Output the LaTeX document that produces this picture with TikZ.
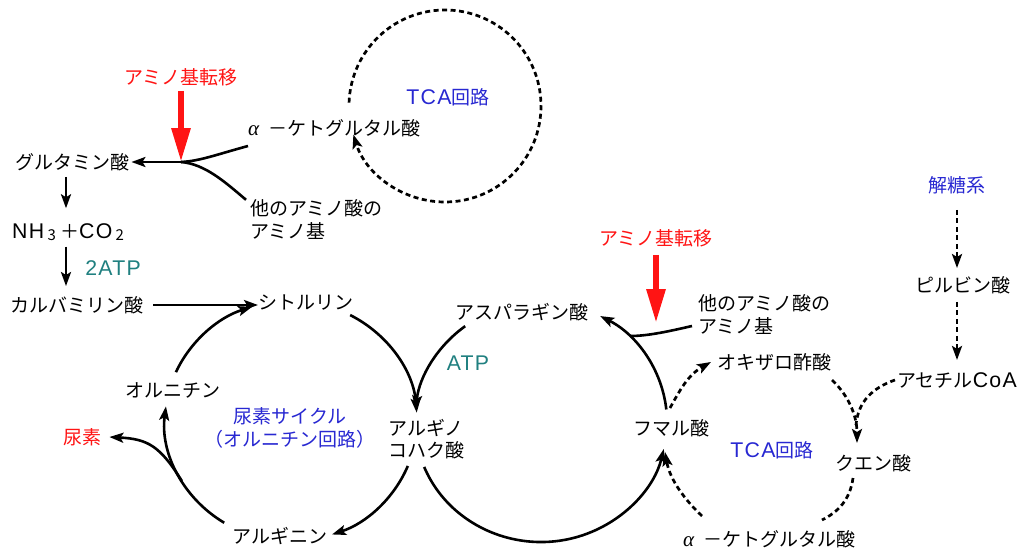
\documentclass[tikz,border=0pt]{standalone}
\usepackage{fontspec}
\setmainfont{Noto Sans CJK JP}
\newfontfamily\lat[LetterSpace=6,Scale=1.12]{Liberation Sans}
\newfontfamily\grk{Liberation Serif}
\usetikzlibrary{arrows.meta,calc}
\definecolor{jblue}{RGB}{40,40,210}
\definecolor{jteal}{RGB}{32,128,128}
\definecolor{jred}{RGB}{255,20,20}
\newcommand{\sbs}[1]{\raisebox{-2pt}{\fontsize{15}{15}\selectfont\ #1}\ }
\newcommand{\alp}{{\grk\itshape\fontsize{21}{21}\selectfont α}\enspace}
\begin{document}
\begin{tikzpicture}[x=1pt,y=-1pt,
  every node/.style={inner sep=0pt, font=\fontsize{19}{23}\selectfont},
  ln/.style={line width=2.6pt},
  arr/.style={line width=2.6pt, -{Stealth[length=14pt,width=10pt,inset=3pt]}},
  dsh/.style={line width=2.7pt, dash pattern=on 5pt off 3.5pt},
  darr/.style={dsh, -{Stealth[length=14pt,width=10pt,inset=3pt]}},
  redarrow/.style={draw=jred, line width=6pt, -{Triangle[length=34pt,width=18pt]}}]
\useasboundingbox (0,0) rectangle (1023,551);
\fill[white] (0,0) rectangle (1023,551);

% ---------- nodes ----------
\node[anchor=center, text=jred] (trans1) at (181,77) {アミノ基転移};
\node[anchor=west] (glu) at (15,162) {グルタミン酸};
\node[anchor=west] (akg1) at (248,128) {\alp－ケトグルタル酸};
\node[anchor=center, text=jblue] (tca1) at (448,97) {{\lat TCA}回路};
\node[anchor=west, align=left] (oam1) at (250,220) {他のアミノ酸の\\アミノ基};
\node[anchor=west] (nh) at (12,232) {{\lat NH}\sbs{3}＋{\lat CO}\sbs{2}};
\node[anchor=center, text=jteal] (atp2) at (113,268) {{\lat 2ATP}};
\node[anchor=west] (carb) at (10,305) {カルバミリン酸};
\node[anchor=west] (cit) at (258,303) {シトルリン};
\node[anchor=west] (orn) at (125,390) {オルニチン};
\node[anchor=west, text=jred] (urea) at (63,437) {尿素};
\node[anchor=center, align=center, text=jblue] (ucyc) at (290,428) {尿素サイクル\\（オルニチン回路）};
\node[anchor=west, align=left, font=\fontsize{19}{22}\selectfont] (asuc) at (388,439) {アルギノ\\コハク酸};
\node[anchor=west] (arg) at (232,536) {アルギニン};
\node[anchor=center, text=jteal] (atp) at (468,363) {{\lat ATP}};
\node[anchor=west] (asp) at (455,312) {アスパラギン酸};
\node[anchor=center, text=jred] (trans2) at (656,238) {アミノ基転移};
\node[anchor=west, align=left] (oam2) at (698,315) {他のアミノ酸の\\アミノ基};
\node[anchor=west] (oxa) at (717,362) {オキザロ酢酸};
\node[anchor=west] (fum) at (633,428) {フマル酸};
\node[anchor=center, text=jblue] (tca2) at (772,450) {{\lat TCA}回路};
\node[anchor=west] (citr) at (835,463) {クエン酸};
\node[anchor=west] (akg2) at (683,539) {\alp－ケトグルタル酸};
\node[anchor=center, text=jblue] (gly) at (957,185) {解糖系};
\node[anchor=west] (pyr) at (915,285) {ピルビン酸};
\node[anchor=west] (acoa) at (897,380) {アセチル{\lat CoA}};

% ---------- centres of the cycles ----------
\coordinate (U) at (291,421);
\coordinate (R) at (541,422);
\coordinate (T) at (445,106);
\coordinate (J1) at (181,162);
\coordinate (J2) at (630,336);

% ---------- top-left: transamination ----------
\draw[redarrow] ([yshift=-5pt]trans1.south) -- (J1);
\draw[ln] ([yshift=-18pt]akg1.west) .. controls (215,155) and (200,161) .. (J1);
\draw[ln] ([xshift=-4pt]oam1.north west) .. controls (225,182) and (205,164) .. (J1);
\draw[arr] (J1) -- ([xshift=2pt]glu.east);
\draw[darr] (T) ++(182:96) arc[start angle=182, end angle=522.7, radius=96];

% ---------- left column ----------
\draw[arr, shorten <=6pt, shorten >=15pt] (glu.south -| 66,0) -- (nh.north -| 66,0);
\draw[arr, shorten <=6pt, shorten >=10pt] (nh.south -| 66,0) -- (carb.north -| 66,0);
\draw[arr] ([xshift=10pt]carb.east) -- (cit.west |- carb.east);

% ---------- urea cycle ----------
\draw[arr] (U) ++(-62:126 and 120) arc[start angle=-62, end angle=-4, x radius=126, y radius=120];
\draw[arr] (U) ++(22:126 and 120) arc[start angle=22, end angle=71, x radius=126, y radius=120];
\draw[arr] (U) ++(122:126 and 120) arc[start angle=122, end angle=187, x radius=126, y radius=120];
\draw[arr] (U) ++(204:126 and 120) arc[start angle=204, end angle=252, x radius=126, y radius=120];
\draw[arr] (U) ++(150:126 and 120) .. controls (160,446) and (148,439) .. ([xshift=8pt]urea.east);

% ---------- aspartate / fumarate cycle ----------
\draw[arr] (R) ++(233:126 and 120) arc[start angle=233, end angle=186, x radius=126, y radius=120];
\draw[arr] (R) ++(158:126 and 120) arc[start angle=158, end angle=13, x radius=126, y radius=120];
\draw[arr] (R) ++(-6:126 and 120) arc[start angle=-6, end angle=-62, x radius=126, y radius=120];
\draw[ln] ([xshift=-6pt,yshift=-11pt]oam2.west) .. controls (662,333) and (645,336) .. (J2);
\draw[redarrow] ([yshift=-8pt]trans2.south) -- (656,323);

% ---------- right TCA cycle ----------
\draw[darr] (670,408) .. controls (680,390) and (688,375) .. ([xshift=-6pt]oxa.west);
\draw[darr] (832,380) .. controls (848,395) and (857,415) .. (857,443);
\draw[dsh] ([xshift=-2pt]acoa.west) .. controls (872,388) and (858,402) .. (856,425);
\draw[dsh] (853,478) .. controls (850,500) and (838,512) .. (822,520);
\draw[darr] (702,516) .. controls (685,500) and (670,480) .. (665,452);

% ---------- glycolysis ----------
\draw[darr, shorten <=16pt, shorten >=8pt] (gly.south) -- (gly.south |- pyr.north);
\draw[darr, shorten <=8pt, shorten >=12pt] (pyr.south -| gly.south) -- (gly.south |- acoa.north);
\end{tikzpicture}
\end{document}
